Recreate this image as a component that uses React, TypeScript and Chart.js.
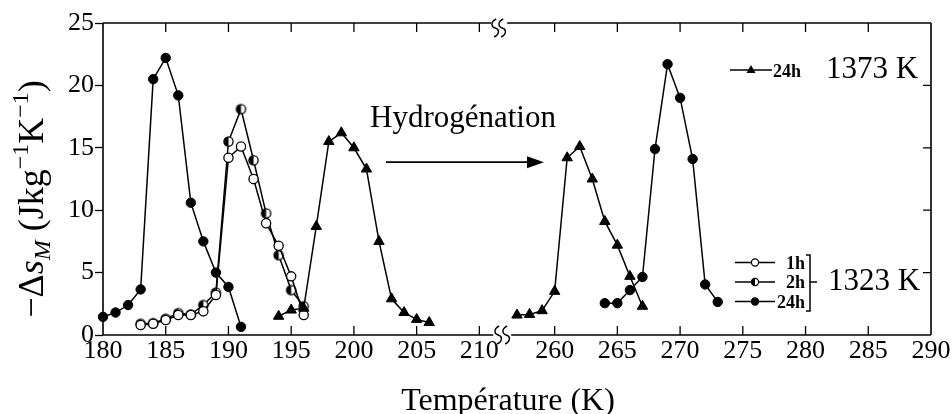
import React, { useEffect, useRef } from "react";
import { Chart, registerables } from "chart.js";
Chart.register(...registerables);

// ---- data (real temperatures in K, values in J kg^-1 K^-1) ----
const xTickLabels = [180, 185, 190, 195, 200, 205, 210, 260, 265, 270, 275, 280, 285, 290];
const yTickValues = [0, 5, 10, 15, 20, 25];

const tri1373LeftT = [194, 195, 196, 197, 198, 199, 200, 201, 202, 203, 204, 205, 206];
const tri1373LeftV = [1.5, 2.0, 2.15, 8.7, 15.5, 16.2, 15.0, 13.3, 7.5, 2.9, 1.8, 1.25, 1.0];
const tri1373RightT = [257, 258, 259, 260, 261, 262, 263, 264, 265, 266, 267];
const tri1373RightV = [1.6, 1.65, 1.95, 3.5, 14.2, 15.1, 12.5, 9.1, 7.2, 4.7, 2.3];

const c24LeftT = [180, 181, 182, 183, 184, 185, 186, 187, 188, 189, 190, 191];
const c24LeftV = [1.45, 1.8, 2.4, 3.65, 20.5, 22.2, 19.2, 10.6, 7.5, 5.0, 3.85, 0.65];
const c24RightT = [264, 265, 266, 267, 268, 269, 270, 271, 272, 273];
const c24RightV = [2.55, 2.55, 3.6, 4.65, 14.9, 21.7, 19.0, 14.1, 4.05, 2.65];

const h2T = [183, 184, 185, 186, 187, 188, 189, 190, 191, 192, 193, 194, 195, 196];
const h2V = [0.9, 0.95, 1.3, 1.75, 1.65, 2.4, 3.4, 15.5, 18.1, 14.0, 9.75, 6.4, 3.6, 2.3];
const h1T = [183, 184, 185, 186, 187, 188, 189, 190, 191, 192, 193, 194, 195, 196];
const h1V = [0.8, 0.9, 1.2, 1.6, 1.6, 1.9, 3.2, 14.2, 15.1, 12.5, 8.95, 7.15, 4.7, 1.6];

// broken axis: the right part (>= 255 K) is shifted left by 44 K
const SHIFT = 44;
const BREAK_AT = 211.5;
const toV = (t: number) => (t > 230 ? t - SHIFT : t);
const fromV = (v: number) => (v > 213 ? v + SHIFT : v);

const SERIF = "'Liberation Serif', 'Times New Roman', serif";

const pts = (ts: number[], vs: number[]) => ts.map((t, i) => ({ x: toV(t), y: vs[i] }));

function makeHalfMarker(r: number) {
  const size = Math.ceil(2 * r + 3);
  const c = document.createElement("canvas");
  c.width = size;
  c.height = size;
  const g = c.getContext("2d")!;
  const cx = size / 2, cy = size / 2;
  g.fillStyle = "#fff";
  g.beginPath(); g.arc(cx, cy, r, 0, Math.PI * 2); g.fill();
  g.fillStyle = "#000";
  g.beginPath(); g.arc(cx, cy, r, Math.PI / 2, Math.PI * 1.5); g.closePath(); g.fill();
  g.strokeStyle = "#000"; g.lineWidth = 1.3;
  g.beginPath(); g.arc(cx, cy, r, 0, Math.PI * 2); g.stroke();
  return c;
}

function squiggle(ctx: CanvasRenderingContext2D, x: number, y: number) {
  ctx.beginPath();
  ctx.moveTo(x + 1, y - 9);
  ctx.bezierCurveTo(x - 5, y - 6, x - 4, y - 1, x, y);
  ctx.bezierCurveTo(x + 4, y + 1, x + 5, y + 6, x - 1, y + 9);
  ctx.stroke();
}

const decorPlugin = {
  id: "decor",
  beforeDatasetsDraw(chart: any) {
    const { ctx, chartArea: a, scales } = chart;
    const xs = scales.x, ys = scales.y;
    const bx = xs.getPixelForValue(BREAK_AT);
    ctx.save();
    ctx.strokeStyle = "#000";
    ctx.lineWidth = 1.6;
    ctx.beginPath();
    ctx.moveTo(a.left, a.top); ctx.lineTo(a.left, a.bottom);
    ctx.moveTo(a.right, a.top); ctx.lineTo(a.right, a.bottom);
    ctx.moveTo(a.left, a.top); ctx.lineTo(bx - 7, a.top);
    ctx.moveTo(bx + 9, a.top); ctx.lineTo(a.right, a.top);
    ctx.moveTo(a.left, a.bottom); ctx.lineTo(bx - 5, a.bottom);
    ctx.moveTo(bx + 13, a.bottom); ctx.lineTo(a.right, a.bottom);
    ctx.stroke();
    ctx.lineWidth = 1.3;
    ctx.beginPath();
    xs.ticks.forEach((t: any) => {
      const px = xs.getPixelForValue(t.value);
      if (px <= a.left + 1 || px >= a.right - 1) return;
      ctx.moveTo(px, a.top); ctx.lineTo(px, a.top + 9);
      ctx.moveTo(px, a.bottom); ctx.lineTo(px, a.bottom - 9);
    });
    ys.ticks.forEach((t: any) => {
      const py = ys.getPixelForValue(t.value);
      if (py <= a.top + 1 || py >= a.bottom - 1) return;
      ctx.moveTo(a.right, py); ctx.lineTo(a.right - 8, py);
    });
    ctx.stroke();
    ctx.lineWidth = 1.4;
    squiggle(ctx, bx - 3, a.top + 5);
    squiggle(ctx, bx + 4, a.top + 5);
    squiggle(ctx, bx, a.bottom);
    squiggle(ctx, bx + 8, a.bottom);
    ctx.restore();
  },
  afterDraw(chart: any) {
    const { ctx, scales } = chart;
    const xs = scales.x, ys = scales.y;
    ctx.save();
    ctx.fillStyle = "#000";
    ctx.strokeStyle = "#000";

    ctx.font = `32px ${SERIF}`;
    ctx.textAlign = "center";
    ctx.textBaseline = "alphabetic";
    ctx.fillText("Température (K)", 508, 410);

    const S = 36;
    const runs: { t: string; f: string; dy: number }[] = [
      { t: "\u2212\u0394", f: `${S}px ${SERIF}`, dy: 0 },
      { t: "s", f: `italic ${S}px ${SERIF}`, dy: 0 },
      { t: "M", f: `italic ${Math.round(S * 0.66)}px ${SERIF}`, dy: S * 0.2 },
      { t: " (Jkg", f: `${S}px ${SERIF}`, dy: 0 },
      { t: "\u22121", f: `${Math.round(S * 0.66)}px ${SERIF}`, dy: -S * 0.42 },
      { t: "K", f: `${S}px ${SERIF}`, dy: 0 },
      { t: "\u22121", f: `${Math.round(S * 0.66)}px ${SERIF}`, dy: -S * 0.42 },
      { t: ")", f: `${S}px ${SERIF}`, dy: 0 },
    ];
    let total = 0;
    runs.forEach((r) => { ctx.font = r.f; total += ctx.measureText(r.t).width; });
    ctx.save();
    ctx.translate(43, 199);
    ctx.rotate(-Math.PI / 2);
    ctx.textAlign = "left";
    let u = -total / 2;
    runs.forEach((r) => {
      ctx.font = r.f;
      ctx.fillText(r.t, u, r.dy);
      u += ctx.measureText(r.t).width;
    });
    ctx.restore();

    ctx.font = `31px ${SERIF}`;
    ctx.textAlign = "left";
    ctx.fillText("Hydrogénation", 370, 127);
    const ax0 = xs.getPixelForValue(202.55), ax1 = xs.getPixelForValue(215.15);
    const ay = ys.getPixelForValue(13.85);
    ctx.lineWidth = 1.6;
    ctx.beginPath(); ctx.moveTo(ax0, ay); ctx.lineTo(ax1 - 12, ay); ctx.stroke();
    ctx.beginPath(); ctx.moveTo(ax1, ay); ctx.lineTo(ax1 - 17, ay - 6); ctx.lineTo(ax1 - 17, ay + 6); ctx.closePath(); ctx.fill();

    ctx.lineWidth = 1.5;
    ctx.beginPath(); ctx.moveTo(730, 70); ctx.lineTo(772, 70); ctx.stroke();
    ctx.beginPath(); ctx.moveTo(751, 65); ctx.lineTo(755.5, 73); ctx.lineTo(746.5, 73); ctx.closePath(); ctx.fill();
    ctx.font = `bold 18px ${SERIF}`;
    ctx.fillText("24h", 773, 77);
    ctx.font = `31px ${SERIF}`;
    ctx.fillText("1373 K", 826, 78);

    const rows = [
      { y: 262.5, lab: "1h", kind: "open" },
      { y: 282, lab: "2h", kind: "half" },
      { y: 301.5, lab: "24h", kind: "full" },
    ];
    rows.forEach((r) => {
      ctx.lineWidth = 1.5;
      ctx.beginPath(); ctx.moveTo(735, r.y); ctx.lineTo(775, r.y); ctx.stroke();
      const R = 3.6;
      ctx.fillStyle = "#fff";
      ctx.beginPath(); ctx.arc(755, r.y, R, 0, Math.PI * 2); ctx.fill();
      ctx.fillStyle = "#000";
      if (r.kind === "full") { ctx.beginPath(); ctx.arc(755, r.y, R, 0, Math.PI * 2); ctx.fill(); }
      if (r.kind === "half") { ctx.beginPath(); ctx.arc(755, r.y, R, Math.PI / 2, Math.PI * 1.5); ctx.closePath(); ctx.fill(); }
      ctx.lineWidth = 1.2;
      ctx.beginPath(); ctx.arc(755, r.y, R, 0, Math.PI * 2); ctx.stroke();
      ctx.font = `bold 18px ${SERIF}`;
      ctx.textAlign = "right";
      ctx.fillText(r.lab, 805, r.y + 6);
    });
    ctx.lineWidth = 1.5;
    ctx.beginPath();
    ctx.moveTo(806, 255); ctx.lineTo(810, 255); ctx.lineTo(810, 311); ctx.lineTo(806, 311);
    ctx.moveTo(810, 282); ctx.lineTo(817, 282);
    ctx.stroke();
    ctx.textAlign = "left";
    ctx.font = `31px ${SERIF}`;
    ctx.fillText("1323 K", 828, 290);
    ctx.restore();
  },
};

export default function App() {
  const ref = useRef<HTMLCanvasElement>(null);
  useEffect(() => {
    const half = makeHalfMarker(4.6);
    const line = { borderColor: "#000", borderWidth: 1.5, showLine: true, clip: false as any, tension: 0 };
    const triangle = { ...line, pointStyle: "triangle", pointRadius: 6, pointBackgroundColor: "#000", pointBorderColor: "#000", pointBorderWidth: 1 };
    const full = { ...line, pointStyle: "circle", pointRadius: 4.7, pointBackgroundColor: "#000", pointBorderColor: "#000", pointBorderWidth: 1 };
    const chart = new Chart(ref.current!, {
      type: "scatter",
      data: {
        datasets: [
          { label: "1373 K 24h", data: pts(tri1373LeftT, tri1373LeftV), ...triangle } as any,
          { label: "1373 K 24h (b)", data: pts(tri1373RightT, tri1373RightV), ...triangle } as any,
          { label: "1323 K 1h", data: pts(h1T, h1V), ...line, pointStyle: "circle", pointRadius: 4.6, pointBackgroundColor: "#fff", pointBorderColor: "#000", pointBorderWidth: 1.3 } as any,
          { label: "1323 K 2h", data: pts(h2T, h2V), ...line, pointStyle: half, pointRadius: 4.6 } as any,
          { label: "1323 K 24h", data: pts(c24LeftT, c24LeftV), ...full } as any,
          { label: "1323 K 24h (b)", data: pts(c24RightT, c24RightV), ...full } as any,
        ],
      },
      options: {
        animation: false,
        responsive: true,
        maintainAspectRatio: false,
        layout: { padding: { left: 0, top: 23, right: 21, bottom: 0 } },
        plugins: { legend: { display: false }, tooltip: { enabled: false } },
        scales: {
          x: {
            type: "linear",
            min: toV(180),
            max: toV(290),
            afterBuildTicks: (s: any) => { s.ticks = xTickLabels.map((t) => ({ value: toV(t) })); },
            afterFit: (s: any) => { s.height = 79; },
            grid: { display: false, drawTicks: false },
            border: { display: false },
            ticks: {
              autoSkip: false, maxRotation: 0, padding: 1, color: "#000",
              font: { family: SERIF, size: 26 },
              callback: (v: any) => String(Math.round(fromV(Number(v)))),
            },
          },
          y: {
            type: "linear",
            min: 0,
            max: 25,
            afterBuildTicks: (s: any) => { s.ticks = yTickValues.map((v) => ({ value: v })); },
            afterFit: (s: any) => { s.width = 103; },
            grid: { display: true, drawOnChartArea: false, drawTicks: true, tickLength: 8, tickColor: "#000", tickWidth: 1.3 },
            border: { display: false },
            ticks: { padding: 1, color: "#000", font: { family: SERIF, size: 26 } },
          },
        },
      },
      plugins: [decorPlugin],
    } as any);
    return () => chart.destroy();
  }, []);
  return (
    <div style={{ position: "absolute", left: 0, top: 0, width: 952, height: 414, background: "#fff" }}>
      <canvas ref={ref} />
    </div>
  );
}
